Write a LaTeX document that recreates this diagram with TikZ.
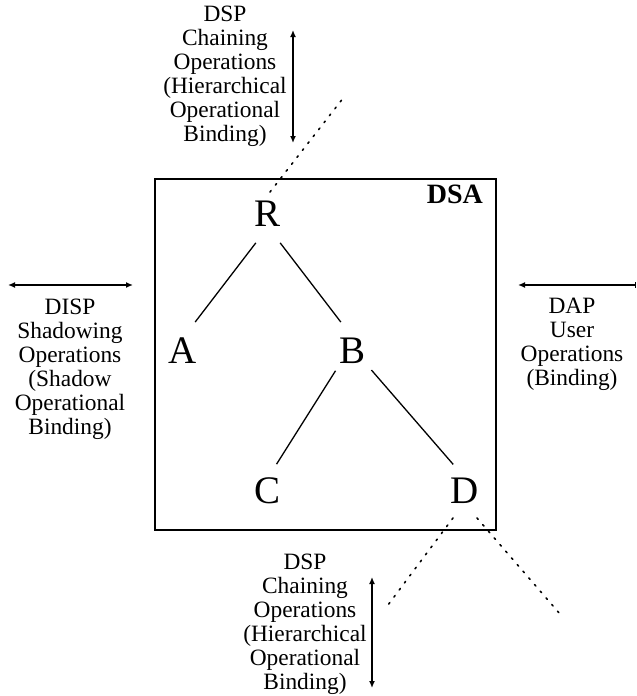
\documentclass[tikz,border=0pt]{standalone}
\usepackage{fontspec}
\setmainfont{Liberation Serif}
\usetikzlibrary{arrows.meta}

\begin{document}
\begin{tikzpicture}[x=1pt,y=-1pt,
    lbl/.style={align=center,inner sep=0pt,font=\fontsize{23.4}{24}\selectfont},
    leaf/.style={inner sep=0pt,font=\fontsize{39}{39}\selectfont},
    edge/.style={line width=1.3pt},
    twoway/.style={{Latex[length=7pt,width=6pt]}-{Latex[length=7pt,width=6pt]},line width=1.4pt},
    dotline/.style={line width=1.6pt,line cap=round,dash pattern=on 1.8pt off 7pt}]
        \useasboundingbox (0,0) rectangle (637,696);
        \draw[line width=1.4pt] (155,179) rectangle (496,530);
        \node[anchor=east,inner sep=0pt,font=\fontsize{28}{28}\selectfont\bfseries] (dsa) at (483,194) {DSA};
        \node[leaf] (R) at (268,214) {R};
        \node[leaf] (A) at (183,351) {A};
        \node[leaf] (B) at (353,351) {B};
        \node[leaf] (C) at (268,491) {C};
        \node[leaf] (D) at (465,491) {D};
        \draw[edge,shorten <=20pt,shorten >=20pt] (R.south) -- (A.north);
        \draw[edge,shorten <=20pt,shorten >=20pt] (R.south) -- (B.north);
        \draw[edge,shorten <=8pt,shorten >=16pt] (B.south west) -- (C.north);
        \draw[edge,shorten <=8pt,shorten >=18pt] (B.south east) -- (D.north);
        \coordinate (r1) at (270,192);
        \coordinate (r2) at (344,97);
        \coordinate (d1) at (453,518);
        \coordinate (d2) at (385,609);
        \coordinate (d3) at (477,518);
        \coordinate (d4) at (560,614);
        \draw[dotline] (r1) -- (r2);
        \draw[dotline] (d1) -- (d2);
        \draw[dotline] (d3) -- (d4);
        \node[lbl] (dsptop) at (225,76) {DSP\\Chaining\\Operations\\(Hierarchical\\Operational\\Binding)};
        \node[lbl] (disp) at (70,369) {DISP\\Shadowing\\Operations\\(Shadow\\Operational\\Binding)};
        \node[lbl] (dap) at (572,344) {DAP\\User\\Operations\\(Binding)};
        \node[lbl] (dspbot) at (305,624) {DSP\\Chaining\\Operations\\(Hierarchical\\Operational\\Binding)};
        \coordinate (t1) at (293,30);
        \coordinate (t2) at (293,143);
        \coordinate (l1) at (8,285);
        \coordinate (l2) at (133,285);
        \coordinate (u1) at (518,285);
        \coordinate (u2) at (636,285);
        \coordinate (b1) at (372,577);
        \coordinate (b2) at (372,688);
        \draw[twoway] (t1) -- (t2);
        \draw[twoway] (l1) -- (l2);
        \draw[{Latex[length=7pt,width=6pt]}-{Bar[width=6pt]},line width=1.4pt] (u1) -- (u2);
        \draw[twoway] (b1) -- (b2);
\end{tikzpicture}
\end{document}
